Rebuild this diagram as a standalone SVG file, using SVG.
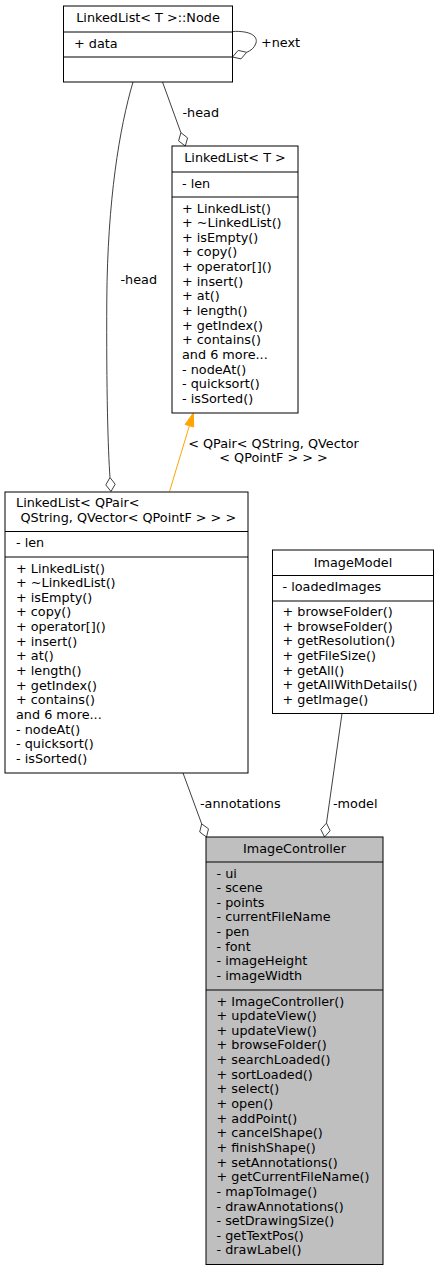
<svg xmlns="http://www.w3.org/2000/svg" width="439" height="1271" viewBox="0 0 439 1271">
<style>
text{font-family:"DejaVu Sans","Liberation Sans",sans-serif;font-size:12.8px;fill:#000}
.c{text-anchor:middle}
.box{fill:#fff;stroke:#000;stroke-width:1}
.gray{fill:#bfbfbf}
.sep{stroke:#000;stroke-width:1}
.edge{fill:none;stroke:#404040;stroke-width:1}
.dia{fill:#fff;stroke:#404040;stroke-width:1}
.tmpl{fill:none;stroke:#ffa500;stroke-width:1}
.tmplh{fill:#ffa500;stroke:#ffa500;stroke-width:1}
</style>
<rect width="439" height="1271" fill="#fff"/>
<g id="connectors">
  <path class="edge" d="M232.5,31.5 C250,30.5 258,36 256,43 C254.5,48 251,50.5 246.7,52.3"/>
  <polygon class="dia" points="232.5,57 241,58.9 246.7,52.3 238.2,50.4"/>
  <text x="261" y="47">+next</text>

  <path class="edge" d="M162.5,82 L180.9,132.7"/>
  <polygon class="dia" points="185.3,146 187.6,137.9 180.9,132.7 178.6,140.9"/>
  <text x="182.5" y="117">-head</text>

  <path class="edge" d="M133,82 C119.5,128 107.5,200 106.8,300 C106.3,390 108,450 110,477.5"/>
  <polygon class="dia" points="111,491.5 115.2,484.2 110,477.5 105.8,484.9"/>
  <text x="120.5" y="283.5">-head</text>

  <path class="tmpl" d="M169.5,491.5 L189.4,425.7"/>
  <polygon class="tmplh" points="193.3,413 193.7,427 185.1,424.4"/>
  <text class="c" x="273.5" y="448">&lt; QPair&lt; QString, QVector</text>
  <text class="c" x="273.5" y="462">&lt; QPointF &gt; &gt; &gt;</text>

  <path class="edge" d="M183,773 L201.7,823.9"/>
  <polygon class="dia" points="206.5,837 208.5,828.8 201.7,823.9 199.7,832"/>
  <text x="200" y="807.5">-annotations</text>

  <path class="edge" d="M342,713.5 L326.5,823.1"/>
  <polygon class="dia" points="324.5,837 330.1,830.7 326.5,823.1 320.8,829.4"/>
  <text x="333" y="807.5">-model</text>
</g>

<g id="node_Node">
  <rect class="box" x="63.5" y="6" width="169" height="76"/>
  <line class="sep" x1="63.5" y1="32" x2="232.5" y2="32"/>
  <line class="sep" x1="63.5" y1="57" x2="232.5" y2="57"/>
  <text class="c" x="148" y="22">LinkedList&lt; T &gt;::Node</text>
  <text x="74" y="47.5">+ data</text>
</g>

<g id="node_LinkedListT">
  <rect class="box" x="172" y="146" width="126" height="267"/>
  <line class="sep" x1="172" y1="172" x2="298" y2="172"/>
  <line class="sep" x1="172" y1="197" x2="298" y2="197"/>
  <text class="c" x="235" y="162">LinkedList&lt; T &gt;</text>
  <text x="182" y="187.5">- len</text>
  <text x="182" y="212.5">+ LinkedList()</text>
  <text x="182" y="227.1">+ ~LinkedList()</text>
  <text x="182" y="241.8">+ isEmpty()</text>
  <text x="182" y="256.4">+ copy()</text>
  <text x="182" y="271.1">+ operator[]()</text>
  <text x="182" y="285.7">+ insert()</text>
  <text x="182" y="300.3">+ at()</text>
  <text x="182" y="315">+ length()</text>
  <text x="182" y="329.6">+ getIndex()</text>
  <text x="182" y="344.3">+ contains()</text>
  <text x="182" y="358.9">and 6 more...</text>
  <text x="182" y="373.5">- nodeAt()</text>
  <text x="182" y="388.2">- quicksort()</text>
  <text x="182" y="402.8">- isSorted()</text>
</g>

<g id="node_LinkedListQPair">
  <rect class="box" x="5" y="492" width="243" height="281"/>
  <line class="sep" x1="5" y1="531.5" x2="248" y2="531.5"/>
  <line class="sep" x1="5" y1="557" x2="248" y2="557"/>
  <text x="16" y="507">LinkedList&lt; QPair&lt;</text>
  <text x="20.5" y="521.5">QString, QVector&lt; QPointF &gt; &gt; &gt;</text>
  <text x="16" y="546.5">- len</text>
  <text x="16" y="572.5">+ LinkedList()</text>
  <text x="16" y="587.1">+ ~LinkedList()</text>
  <text x="16" y="601.8">+ isEmpty()</text>
  <text x="16" y="616.4">+ copy()</text>
  <text x="16" y="631.1">+ operator[]()</text>
  <text x="16" y="645.7">+ insert()</text>
  <text x="16" y="660.3">+ at()</text>
  <text x="16" y="675">+ length()</text>
  <text x="16" y="689.6">+ getIndex()</text>
  <text x="16" y="704.3">+ contains()</text>
  <text x="16" y="718.9">and 6 more...</text>
  <text x="16" y="733.5">- nodeAt()</text>
  <text x="16" y="748.2">- quicksort()</text>
  <text x="16" y="762.8">- isSorted()</text>
</g>

<g id="node_ImageModel">
  <rect class="box" x="272.5" y="550" width="161" height="163.5"/>
  <line class="sep" x1="272.5" y1="575.5" x2="433.5" y2="575.5"/>
  <line class="sep" x1="272.5" y1="601" x2="433.5" y2="601"/>
  <text class="c" x="353" y="566.5">ImageModel</text>
  <text x="282.5" y="591">- loadedImages</text>
  <text x="282.5" y="616">+ browseFolder()</text>
  <text x="282.5" y="630.6">+ browseFolder()</text>
  <text x="282.5" y="645.3">+ getResolution()</text>
  <text x="282.5" y="659.9">+ getFileSize()</text>
  <text x="282.5" y="674.6">+ getAll()</text>
  <text x="282.5" y="689.2">+ getAllWithDetails()</text>
  <text x="282.5" y="703.8">+ getImage()</text>
</g>

<g id="node_ImageController">
  <rect class="box gray" x="206" y="837" width="177" height="427.5"/>
  <line class="sep" x1="206" y1="862" x2="383" y2="862"/>
  <line class="sep" x1="206" y1="990" x2="383" y2="990"/>
  <text class="c" x="294.5" y="853">ImageController</text>
  <text x="216.5" y="877.5">- ui</text>
  <text x="216.5" y="892.1">- scene</text>
  <text x="216.5" y="906.8">- points</text>
  <text x="216.5" y="921.4">- currentFileName</text>
  <text x="216.5" y="936.1">- pen</text>
  <text x="216.5" y="950.7">- font</text>
  <text x="216.5" y="965.3">- imageHeight</text>
  <text x="216.5" y="980">- imageWidth</text>
  <text x="216.5" y="1005.5">+ ImageController()</text>
  <text x="216.5" y="1020.1">+ updateView()</text>
  <text x="216.5" y="1034.8">+ updateView()</text>
  <text x="216.5" y="1049.4">+ browseFolder()</text>
  <text x="216.5" y="1064.1">+ searchLoaded()</text>
  <text x="216.5" y="1078.7">+ sortLoaded()</text>
  <text x="216.5" y="1093.3">+ select()</text>
  <text x="216.5" y="1108">+ open()</text>
  <text x="216.5" y="1122.6">+ addPoint()</text>
  <text x="216.5" y="1137.3">+ cancelShape()</text>
  <text x="216.5" y="1151.9">+ finishShape()</text>
  <text x="216.5" y="1166.5">+ setAnnotations()</text>
  <text x="216.5" y="1181.2">+ getCurrentFileName()</text>
  <text x="216.5" y="1195.8">- mapToImage()</text>
  <text x="216.5" y="1210.5">- drawAnnotations()</text>
  <text x="216.5" y="1225.1">- setDrawingSize()</text>
  <text x="216.5" y="1239.7">- getTextPos()</text>
  <text x="216.5" y="1254.4">- drawLabel()</text>
</g>
</svg>
